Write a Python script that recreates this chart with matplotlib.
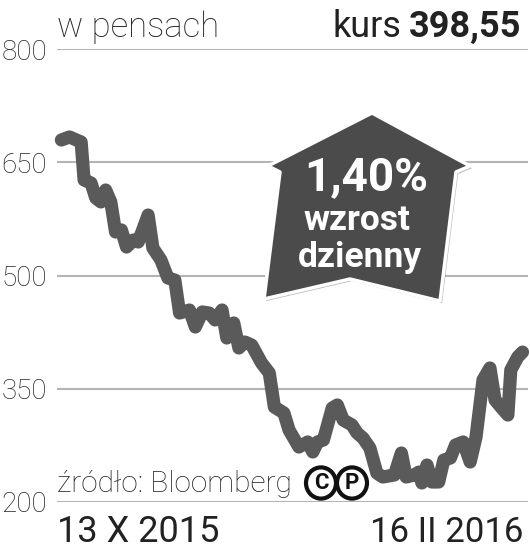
import matplotlib.pyplot as plt
from matplotlib.patches import Polygon, Circle
import matplotlib.patheffects as pe

# kurs w pensach, dni kalendarzowe od 13 X 2015
days = [0, 2.2, 5.4, 6.2, 8.1, 9.4, 10.8, 12.1, 13.5, 14.8, 16.4, 17.8, 19.7, 21.0,
        23.7, 25.0, 27.2, 29.1, 31.0, 32.3, 35.0, 36.6, 38.5, 40.4, 42.0, 43.9, 45.2,
        47.1, 48.5, 50.1, 52.0, 54.7, 56.8, 58.2, 60.8, 62.2, 64.9, 67.3, 68.7, 70.0,
        71.6, 74.0, 75.4, 77.0, 79.4, 80.8, 82.4, 84.3, 86.2, 87.8, 91.0, 92.9, 94.2,
        96.4, 97.7, 98.5, 99.9, 101.2, 103.1, 104.5, 106.3, 107.7, 109.8, 111.7, 113.3,
        115.2, 117.1, 118.5, 120.1, 122.0, 122.8, 124.7, 126.0]
price = [679.5, 683.5, 676.8, 626.5, 622.5, 602.6, 597.4, 613.2, 597.4, 557.6, 560.3,
         537.7, 547.0, 544.4, 580.1, 536.4, 520.5, 496.7, 494.0, 450.3, 454.3, 431.8,
         451.7, 450.3, 441.1, 454.3, 417.2, 437.1, 404.0, 411.9, 407.9, 384.1, 370.9,
         325.8, 317.9, 295.4, 272.8, 279.5, 266.2, 279.5, 282.1, 324.5, 328.5, 308.6,
         302.0, 291.4, 284.8, 271.5, 238.4, 233.1, 235.8, 264.9, 233.1, 235.8, 239.7,
         225.2, 249.0, 226.5, 226.5, 255.6, 258.3, 275.5, 279.5, 253.0, 286.1, 361.6,
         377.5, 335.1, 325.8, 315.2, 374.8, 392.1, 398.55]
yticks = [200, 350, 500, 650, 800]

W, H = 530, 551
fig = plt.figure(figsize=(W / 100, H / 100), dpi=100)
ax = fig.add_axes([57 / W, 1 - 502 / H, 471 / W, 453 / H])
ax.set_xlim(-1.2, 127.5)
ax.set_ylim(200, 800)
for s in ax.spines.values():
    s.set_visible(False)
ax.set_xticks([])
ax.set_yticks(yticks)
ax.set_yticklabels([str(t) for t in yticks], fontsize=20, color='#222222',
                   family='Roboto', weight='light')
ax.tick_params(axis='y', length=0, pad=7)
for t in yticks:
    ax.axhline(t, color='#b4b4b4', lw=1.5, zorder=1)

ax.plot(days, price, color='#5a5a5a', lw=9.5, solid_capstyle='round',
        solid_joinstyle='round', zorder=3, clip_on=False)

# strzalka
def fx(x):
    return x / W

def fy(y):
    return 1 - y / H

arrow_px = [(372, 113), (470, 166), (456, 172), (440, 301), (350, 279),
            (264, 299), (280, 172), (268, 166)]
poly = Polygon([(fx(x), fy(y)) for x, y in arrow_px], closed=True,
               transform=fig.transFigure, facecolor='#4b4b4b', edgecolor='white',
               lw=2.5, joinstyle='round', zorder=5,
               path_effects=[pe.SimplePatchShadow(offset=(1.5, -1.5), shadow_rgbFace='#888888',
                                                  alpha=0.6), pe.Normal()])
fig.add_artist(poly)
fig.text(fx(366), fy(177), '1,40%', ha='center', va='center', color='white',
         fontsize=33, weight='bold', family='Roboto', zorder=6)
fig.text(fx(357), fy(220), 'wzrost', ha='center', va='center', color='white',
         fontsize=25.5, weight='bold', family='Roboto', zorder=6)
fig.text(fx(360), fy(257), 'dzienny', ha='center', va='center', color='white',
         fontsize=25.5, weight='bold', family='Roboto', zorder=6)

# naglowki
fig.text(fx(57), fy(37), 'w pensach', ha='left', va='baseline', fontsize=25,
         color='#222222', family='Roboto', weight='light')
t = fig.text(fx(521), fy(37), '398,55', ha='right', va='baseline', fontsize=26,
             color='#222222', family='Roboto', weight='bold')
bb = t.get_window_extent(renderer=fig.canvas.get_renderer())
fig.text((bb.x0 - 7) / W, fy(37), 'kurs', ha='right', va='baseline', fontsize=26,
         color='#222222', family='Roboto')

fig.text(fx(57), fy(492), 'źródło: Bloomberg', ha='left', va='baseline', fontsize=21.5,
         color='#222222', family='Roboto', weight='light')
for cx, letter in [(321, 'C'), (352, 'P')]:
    fig.add_artist(Circle((fx(cx), fy(483)), 15 / W, transform=fig.transFigure,
                          facecolor='none', edgecolor='#111111', lw=3))
    fig.text(fx(cx), fy(483), letter, ha='center', va='center', fontsize=16,
             weight='bold', color='#111111', family='Roboto')

fig.text(fx(57), fy(542), '13 X 2015', ha='left', va='baseline', fontsize=26,
         color='#222222', family='Roboto')
fig.text(fx(523), fy(542), '16 II 2016', ha='right', va='baseline', fontsize=25,
         color='#222222', family='Roboto')

fig.savefig('out.png', dpi=100)
